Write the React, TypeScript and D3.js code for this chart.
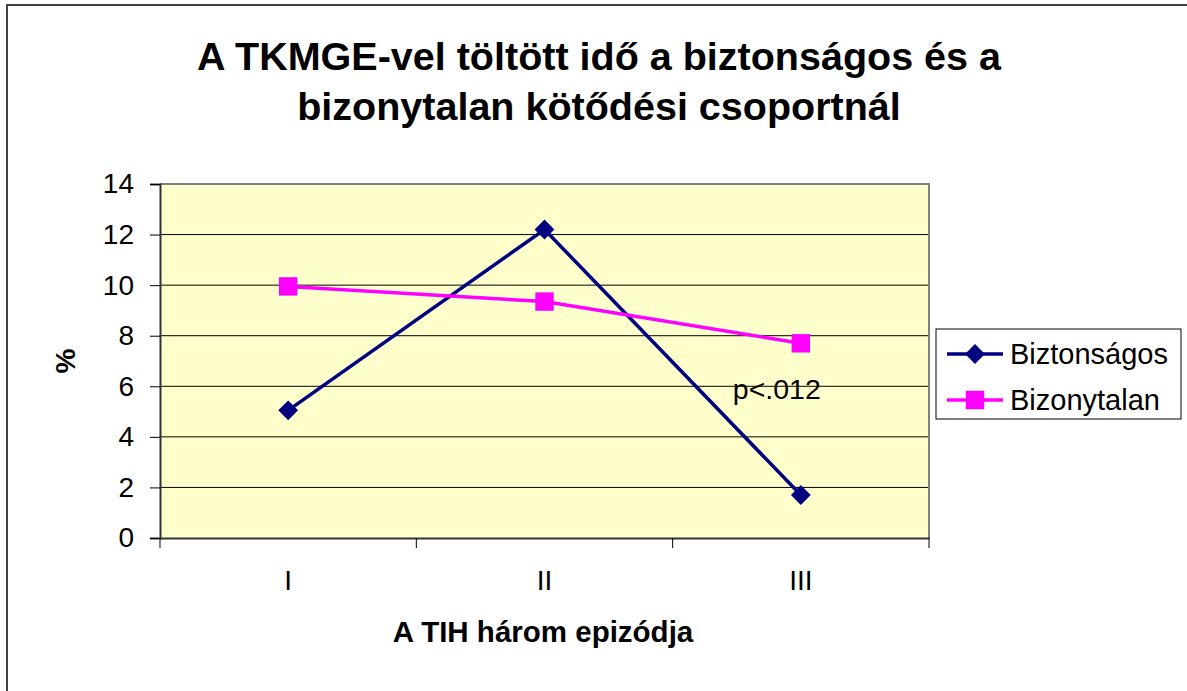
import { useEffect, useRef } from 'react';
import * as d3 from 'd3';

const categories = ['I', 'II', 'III'];
const biztonsagos = [5.05, 12.2, 1.7];
const bizonytalan = [9.95, 9.35, 7.7];
const yTicks = [0, 2, 4, 6, 8, 10, 12, 14];
const titleLines = ['A TKMGE-vel töltött idő a biztonságos és a', 'bizonytalan kötődési csoportnál'];
const seriesNames = ['Biztonságos', 'Bizonytalan'];

const App = () => {
  const chartRef = useRef<SVGSVGElement>(null);

  useEffect(() => {
    const svg = d3.select(chartRef.current);
    svg.selectAll('*').remove();

    const width = 1187,
      height = 691;
    const plot = { left: 160, top: 184, right: 929, bottom: 538 };
    const font = 'Arial, "Liberation Sans", sans-serif';

    svg.attr('width', width).attr('height', height);

    // outer chart frame (runs off the right/bottom edge)
    svg
      .append('rect')
      .attr('x', 7)
      .attr('y', 5)
      .attr('width', 1220)
      .attr('height', 720)
      .attr('fill', '#fff')
      .attr('stroke', '#404040')
      .attr('stroke-width', 2);

    // title
    svg
      .append('text')
      .attr('text-anchor', 'middle')
      .attr('font-family', font)
      .attr('font-weight', 'bold')
      .attr('font-size', 39.5)
      .selectAll('tspan')
      .data(titleLines)
      .enter()
      .append('tspan')
      .attr('x', 599)
      .attr('y', (d, i) => 70 + i * 50)
      .text((d) => d);

    const x = d3.scaleBand().domain(categories).range([plot.left, plot.right]);
    const y = d3.scaleLinear().domain([0, 14]).range([plot.bottom, plot.top]);
    const cx = (c: string) => (x(c) as number) + x.bandwidth() / 2;

    // plot area
    svg
      .append('rect')
      .attr('x', plot.left)
      .attr('y', plot.top)
      .attr('width', plot.right - plot.left)
      .attr('height', plot.bottom - plot.top)
      .attr('fill', '#FFFFCC');

    // gridlines
    svg
      .append('g')
      .selectAll('line')
      .data(yTicks.filter((t) => t > 0 && t < 14))
      .enter()
      .append('line')
      .attr('x1', plot.left)
      .attr('x2', plot.right)
      .attr('y1', (d) => y(d))
      .attr('y2', (d) => y(d))
      .attr('stroke', '#000')
      .attr('stroke-width', 1);

    // top/right border of plot
    svg
      .append('path')
      .attr('d', `M${plot.left},${plot.top}H${plot.right}V${plot.bottom}`)
      .attr('fill', 'none')
      .attr('stroke', '#808080')
      .attr('stroke-width', 2);

    // Y axis
    const yAxis = svg
      .append('g')
      .attr('transform', `translate(${plot.left},0)`)
      .call(d3.axisLeft(y).tickValues(yTicks).tickSize(10).tickPadding(16).tickFormat(d3.format('d')));
    yAxis.select('.domain').attr('stroke', '#333').attr('stroke-width', 2);
    yAxis.selectAll('.tick line').attr('stroke', '#000');
    yAxis
      .selectAll('text')
      .attr('font-family', font)
      .attr('font-size', 28)
      .attr('fill', '#000');

    // X axis
    const xAxis = svg
      .append('g')
      .attr('transform', `translate(0,${plot.bottom})`)
      .call(d3.axisBottom(x).tickSize(0).tickPadding(32));
    xAxis.select('.domain').attr('stroke', '#333').attr('stroke-width', 2);
    xAxis
      .selectAll('text')
      .attr('font-family', font)
      .attr('font-size', 28)
      .attr('fill', '#000');

    // ticks between categories
    const bounds = categories.map((c) => x(c) as number).concat([plot.right]);
    svg
      .append('g')
      .selectAll('line')
      .data(bounds)
      .enter()
      .append('line')
      .attr('x1', (d) => d)
      .attr('x2', (d) => d)
      .attr('y1', plot.bottom)
      .attr('y2', plot.bottom + 10)
      .attr('stroke', '#000');

    // axis titles
    svg
      .append('text')
      .attr('x', 543)
      .attr('y', 642)
      .attr('text-anchor', 'middle')
      .attr('font-family', font)
      .attr('font-weight', 'bold')
      .attr('font-size', 29.5)
      .text('A TIH három epizódja');

    svg
      .append('text')
      .attr('transform', `translate(75,${(plot.top + plot.bottom) / 2}) rotate(-90)`)
      .attr('text-anchor', 'middle')
      .attr('font-family', font)
      .attr('font-weight', 'bold')
      .attr('font-size', 28)
      .text('%');

    const line = d3
      .line<number>()
      .x((d, i) => cx(categories[i]))
      .y((d) => y(d));

    const diamond = d3.symbol().type(d3.symbolDiamond2).size(250);
    const square = d3.symbol().type(d3.symbolSquare).size(340);

    // Biztonságos
    svg
      .append('path')
      .attr('d', line(biztonsagos))
      .attr('fill', 'none')
      .attr('stroke', '#000080')
      .attr('stroke-width', 3.5);
    svg
      .append('g')
      .selectAll('path')
      .data(biztonsagos)
      .enter()
      .append('path')
      .attr('d', diamond())
      .attr('transform', (d, i) => `translate(${cx(categories[i])},${y(d)})`)
      .attr('fill', '#000080');

    // Bizonytalan
    svg
      .append('path')
      .attr('d', line(bizonytalan))
      .attr('fill', 'none')
      .attr('stroke', '#FF00FF')
      .attr('stroke-width', 3.5);
    svg
      .append('g')
      .selectAll('path')
      .data(bizonytalan)
      .enter()
      .append('path')
      .attr('d', square())
      .attr('transform', (d, i) => `translate(${cx(categories[i])},${y(d)})`)
      .attr('fill', '#FF00FF');

    // annotation
    svg
      .append('text')
      .attr('x', cx('III') - 68)
      .attr('y', y(5.5))
      .attr('font-family', font)
      .attr('font-size', 28.5)
      .text('p<.012');

    // legend
    const legend = svg.append('g').attr('transform', 'translate(936,329)');
    legend
      .append('rect')
      .attr('width', 245)
      .attr('height', 90)
      .attr('fill', '#fff')
      .attr('stroke', '#000')
      .attr('stroke-width', 1);
    const colors = ['#000080', '#FF00FF'];
    const shapes = [diamond, square];
    seriesNames.forEach((name, i) => {
      const ly = 25 + i * 46;
      legend
        .append('line')
        .attr('x1', 11)
        .attr('x2', 67)
        .attr('y1', ly)
        .attr('y2', ly)
        .attr('stroke', colors[i])
        .attr('stroke-width', 3.5);
      legend
        .append('path')
        .attr('d', shapes[i]())
        .attr('transform', `translate(39,${ly})`)
        .attr('fill', colors[i]);
      legend
        .append('text')
        .attr('x', 74)
        .attr('y', ly)
        .attr('dy', '0.35em')
        .attr('font-family', font)
        .attr('font-size', 29)
        .text(name);
    });

    return () => {
      d3.select(chartRef.current).selectAll('*').remove();
    };
  }, []);

  return (
    <div style={{ position: 'absolute', left: 0, top: 0 }}>
      <svg ref={chartRef}></svg>
    </div>
  );
};

export default App;
